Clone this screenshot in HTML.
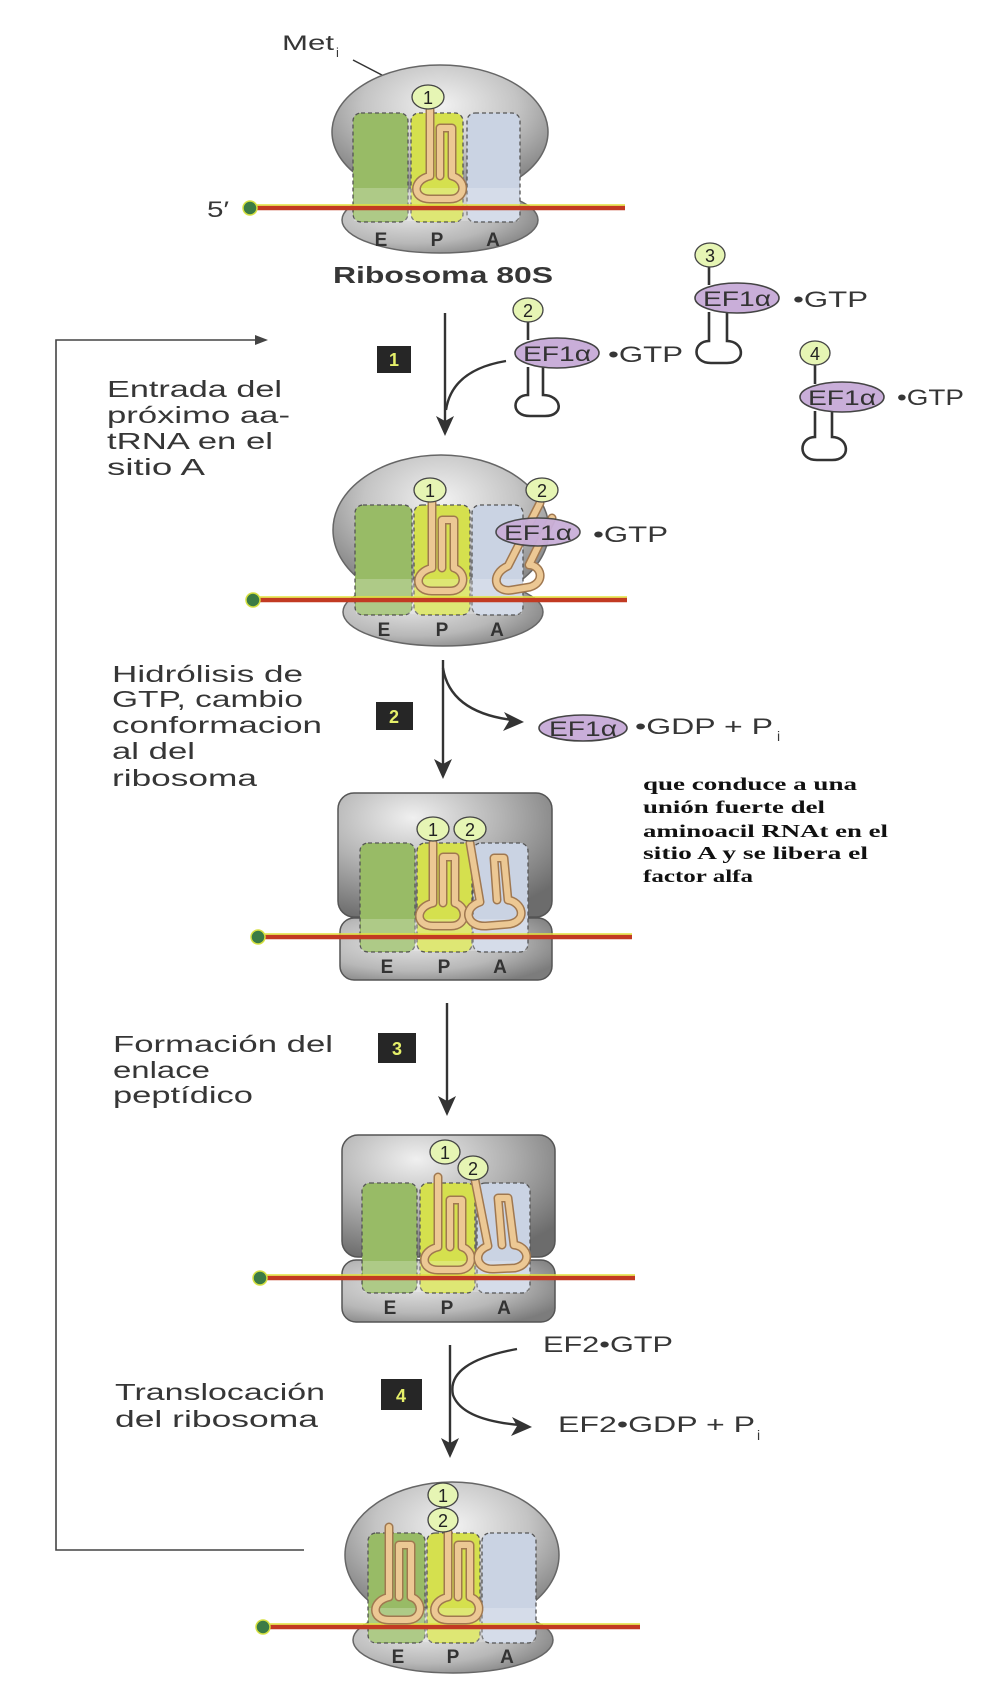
<!DOCTYPE html>
<html><head><meta charset="utf-8"><style>
html,body{margin:0;padding:0;background:#fff;}
svg{display:block;}
text{font-family:"Liberation Sans",Arial,sans-serif;fill:#363636;}
.serif{font-family:"Liberation Serif","Times New Roman",serif;font-weight:bold;fill:#111;font-size:18px;}
.lbl{font-size:23px;}
.epa{font-size:19px;font-weight:bold;fill:#333;text-anchor:middle;}
.num{font-size:18px;text-anchor:middle;fill:#222;}
.ef{font-size:21px;fill:#333;}
.gtp{font-size:22px;}
.box{fill:#262626;}
.boxn{font-size:18px;font-weight:bold;fill:#e6f06a;text-anchor:middle;}
.site{stroke:#555;stroke-width:1.3;stroke-dasharray:4 3;}
.lo{fill:#fff;opacity:0.22;}
.trO{fill:none;stroke:#a07850;stroke-width:9;stroke-linejoin:round;stroke-linecap:round;}
.trI{fill:none;stroke:#ecc894;stroke-width:6;stroke-linejoin:round;stroke-linecap:round;}
.circ{fill:#e6f5b4;stroke:#444;stroke-width:1.3;}
.efe{fill:#c9aed9;stroke:#444;stroke-width:1.6;}
.ln{stroke:#333;fill:none;stroke-width:2.4;}
.stem{stroke:#333;fill:none;stroke-width:2.6;}
.mr{stroke:#c23a22;stroke-width:4.5;}
.my{stroke:#e2e23c;stroke-width:1.6;}
.dot{fill:#3b7b45;stroke:#d6e040;stroke-width:1.5;}
</style></head><body>
<svg width="1000" height="1707" viewBox="0 0 1000 1707" xmlns="http://www.w3.org/2000/svg">
<defs>
<radialGradient id="gE" cx="0.5" cy="0.3" r="0.65">
 <stop offset="0" stop-color="#f2f2f2"/><stop offset="0.55" stop-color="#c4c4c4"/><stop offset="1" stop-color="#858585"/>
</radialGradient>
<radialGradient id="gB" cx="0.35" cy="0.4" r="0.75">
 <stop offset="0" stop-color="#e6e6e6"/><stop offset="0.6" stop-color="#b8b8b8"/><stop offset="1" stop-color="#7c7c7c"/>
</radialGradient>
<radialGradient id="gR" cx="0.35" cy="0.2" r="0.85">
 <stop offset="0" stop-color="#f0f0f0"/><stop offset="0.5" stop-color="#b2b2b2"/><stop offset="1" stop-color="#6c6c6c"/>
</radialGradient>
</defs>

<!-- feedback loop line -->
<path d="M262,340 H56 V1550 H304" stroke="#444" stroke-width="1.6" fill="none"/>
<polygon points="268,340 255,335 255,345" fill="#444"/>

<!-- ============ Ribosome 1 ============ -->
<text x="282" y="50" font-size="21" textLength="52" lengthAdjust="spacingAndGlyphs">Met</text>
<text x="336" y="57" font-size="13">i</text>
<line x1="353" y1="60" x2="405" y2="87" stroke="#333" stroke-width="1.5"/>
<ellipse cx="440" cy="132" rx="108" ry="67" fill="url(#gE)" stroke="#666" stroke-width="1.5"/>
<ellipse cx="440" cy="220" rx="98" ry="33" fill="url(#gB)" stroke="#666" stroke-width="1.5"/>
<rect class="site" x="353" y="113" width="55" height="109" rx="8" fill="#98bb66"/>
<rect class="site" x="411" y="113" width="52" height="109" rx="8" fill="#d5e04e"/>
<rect class="site" x="467" y="113" width="53" height="109" rx="8" fill="#cad3e3"/>
<rect class="lo" x="354" y="188" width="165" height="33"/>
<line class="mr" x1="250" y1="208" x2="625" y2="208"/>
<line class="my" x1="256" y1="205" x2="625" y2="205"/>
<circle class="dot" cx="250" cy="208" r="7"/>
<text x="207" y="217" font-size="22" textLength="22" lengthAdjust="spacingAndGlyphs">5′</text>
<path class="trO" d="M430,110 V176 C412,180 412,199 430,199 H450 C466,199 467,180 452,176 V128 H440 V176"/>
<path class="trI" d="M430,110 V176 C412,180 412,199 430,199 H450 C466,199 467,180 452,176 V128 H440 V176"/>
<ellipse class="circ" cx="428" cy="97" rx="16" ry="12"/>
<text class="num" x="428" y="104">1</text>
<text class="epa" x="381" y="246">E</text>
<text class="epa" x="437" y="246">P</text>
<text class="epa" x="493" y="246">A</text>
<text x="333" y="283" font-size="23" font-weight="bold" textLength="220" lengthAdjust="spacingAndGlyphs">Ribosoma 80S</text>

<!-- ============ free EF1a groups ============ -->
<line class="stem" x1="528" y1="322" x2="528" y2="340"/>
<path class="stem" d="M528,367 V395 C512,395 510,416 530,416 H545 C565,416 562,395 543,395 V367"/>
<ellipse class="circ" cx="528" cy="310" rx="15" ry="12"/>
<text class="num" x="528" y="317">2</text>
<ellipse class="efe" cx="557" cy="353" rx="42" ry="15"/>
<text class="ef" x="523" y="361" textLength="68" lengthAdjust="spacingAndGlyphs">EF1α</text>
<text class="gtp" x="608" y="362" textLength="75" lengthAdjust="spacingAndGlyphs">•GTP</text>

<line class="stem" x1="709" y1="267" x2="709" y2="285"/>
<path class="stem" d="M709,312 V341 C693,341 691,363 711,363 H727 C747,363 744,341 727,341 V312"/>
<ellipse class="circ" cx="710" cy="255" rx="15" ry="12"/>
<text class="num" x="710" y="262">3</text>
<ellipse class="efe" cx="737" cy="298" rx="42" ry="15"/>
<text class="ef" x="703" y="306" textLength="68" lengthAdjust="spacingAndGlyphs">EF1α</text>
<text class="gtp" x="793" y="307" textLength="75" lengthAdjust="spacingAndGlyphs">•GTP</text>

<line class="stem" x1="815" y1="365" x2="815" y2="384"/>
<path class="stem" d="M815,411 V437 C799,437 797,460 817,460 H832 C852,460 849,437 832,437 V411"/>
<ellipse class="circ" cx="815" cy="353" rx="15" ry="12"/>
<text class="num" x="815" y="360">4</text>
<ellipse class="efe" cx="842" cy="397" rx="42" ry="15"/>
<text class="ef" x="808" y="405" textLength="68" lengthAdjust="spacingAndGlyphs">EF1α</text>
<text class="gtp" x="897" y="405" textLength="67" lengthAdjust="spacingAndGlyphs">•GTP</text>

<!-- step 1 -->
<line class="ln" x1="445" y1="313" x2="445" y2="425"/>
<polygon points="445,436 436,416 445,421 454,416" fill="#333"/>
<path class="ln" d="M506,361 Q452,370 446,410"/>
<rect class="box" x="377" y="346" width="34" height="27"/>
<text class="boxn" x="394" y="366">1</text>
<text class="lbl" x="107" y="397" textLength="175" lengthAdjust="spacingAndGlyphs">Entrada del</text>
<text class="lbl" x="107" y="423" textLength="183" lengthAdjust="spacingAndGlyphs">próximo aa-</text>
<text class="lbl" x="107" y="449" textLength="166" lengthAdjust="spacingAndGlyphs">tRNA en el</text>
<text class="lbl" x="107" y="475" textLength="98" lengthAdjust="spacingAndGlyphs">sitio A</text>

<!-- ============ Ribosome 2 ============ -->
<ellipse cx="441" cy="530" rx="108" ry="75" fill="url(#gE)" stroke="#666" stroke-width="1.5"/>
<ellipse cx="443" cy="612" rx="100" ry="34" fill="url(#gB)" stroke="#666" stroke-width="1.5"/>
<rect class="site" x="355" y="505" width="57" height="110" rx="8" fill="#98bb66"/>
<rect class="site" x="414" y="505" width="56" height="110" rx="8" fill="#d5e04e"/>
<rect class="site" x="472" y="505" width="51" height="110" rx="8" fill="#cad3e3"/>
<rect class="lo" x="356" y="579" width="166" height="35"/>
<line class="mr" x1="253" y1="600" x2="627" y2="600"/>
<line class="my" x1="259" y1="597" x2="627" y2="597"/>
<circle class="dot" cx="253" cy="600" r="7"/>
<path class="trO" d="M432,503 V568 C414,572 414,591 432,591 H450 C466,591 467,572 454,568 V520 H442 V568"/>
<path class="trI" d="M432,503 V568 C414,572 414,591 432,591 H450 C466,591 467,572 454,568 V520 H442 V568"/>
<path class="trO" d="M540,503 L508,566 C490,574 494,593 512,590 L530,587 C546,582 541,565 529,565 L552,518"/>
<path class="trI" d="M540,503 L508,566 C490,574 494,593 512,590 L530,587 C546,582 541,565 529,565 L552,518"/>
<ellipse class="circ" cx="430" cy="490" rx="16" ry="12"/>
<text class="num" x="430" y="497">1</text>
<ellipse class="circ" cx="542" cy="490" rx="16" ry="12"/>
<text class="num" x="542" y="497">2</text>
<ellipse class="efe" cx="538" cy="532" rx="42" ry="14" opacity="0.95"/>
<text class="ef" x="504" y="540" textLength="68" lengthAdjust="spacingAndGlyphs">EF1α</text>
<text class="gtp" x="593" y="542" textLength="75" lengthAdjust="spacingAndGlyphs">•GTP</text>
<text class="epa" x="384" y="636">E</text>
<text class="epa" x="442" y="636">P</text>
<text class="epa" x="497" y="636">A</text>

<!-- step 2 -->
<line class="ln" x1="443" y1="660" x2="443" y2="768"/>
<polygon points="443,779 434,759 443,764 452,759" fill="#333"/>
<path class="ln" d="M443,668 Q450,712 512,720"/>
<polygon points="524,722 504,712 509,721 503,731" fill="#333"/>
<rect class="box" x="376" y="702" width="37" height="28"/>
<text class="boxn" x="394" y="723">2</text>
<ellipse class="efe" cx="583" cy="728" rx="44" ry="13"/>
<text class="ef" x="549" y="736" textLength="68" lengthAdjust="spacingAndGlyphs">EF1α</text>
<text class="gtp" x="635" y="734" textLength="138" lengthAdjust="spacingAndGlyphs">•GDP + P</text>
<text x="777" y="741" font-size="14">i</text>
<text class="lbl" x="112" y="682" textLength="191" lengthAdjust="spacingAndGlyphs">Hidrólisis de</text>
<text class="lbl" x="112" y="707" textLength="191" lengthAdjust="spacingAndGlyphs">GTP, cambio</text>
<text class="lbl" x="112" y="733" textLength="210" lengthAdjust="spacingAndGlyphs">conformacion</text>
<text class="lbl" x="112" y="759" textLength="83" lengthAdjust="spacingAndGlyphs">al del</text>
<text class="lbl" x="112" y="786" textLength="145" lengthAdjust="spacingAndGlyphs">ribosoma</text>
<text class="serif" x="643" y="790" textLength="214" lengthAdjust="spacingAndGlyphs">que conduce a una</text>
<text class="serif" x="643" y="813" textLength="182" lengthAdjust="spacingAndGlyphs">unión fuerte del</text>
<text class="serif" x="643" y="837" textLength="245" lengthAdjust="spacingAndGlyphs">aminoacil RNAt en el</text>
<text class="serif" x="643" y="859" textLength="225" lengthAdjust="spacingAndGlyphs">sitio A y se libera el</text>
<text class="serif" x="643" y="882" textLength="110" lengthAdjust="spacingAndGlyphs">factor alfa</text>

<!-- ============ Ribosome 3 ============ -->
<rect x="338" y="793" width="214" height="124" rx="16" fill="url(#gR)" stroke="#555" stroke-width="1.5"/>
<rect x="340" y="918" width="212" height="62" rx="14" fill="url(#gB)" stroke="#555" stroke-width="1.5"/>
<rect class="site" x="360" y="843" width="55" height="109" rx="8" fill="#98bb66"/>
<rect class="site" x="417" y="843" width="55" height="109" rx="8" fill="#d5e04e"/>
<rect class="site" x="473" y="843" width="55" height="109" rx="8" fill="#cad3e3"/>
<rect class="lo" x="361" y="919" width="166" height="32"/>
<line class="mr" x1="258" y1="937" x2="632" y2="937"/>
<line class="my" x1="264" y1="934" x2="632" y2="934"/>
<circle class="dot" cx="258" cy="937" r="7"/>
<path class="trO" d="M433,843 V903 C415,907 415,926 433,926 H451 C467,926 468,907 455,903 V857 H443 V903"/>
<path class="trI" d="M433,843 V903 C415,907 415,926 433,926 H451 C467,926 468,907 455,903 V857 H443 V903"/>
<path class="trO" d="M470,843 L480,902 C462,908 466,927 486,926 L510,924 C528,920 522,902 508,900 L504,858 L494,858 L497,900"/>
<path class="trI" d="M470,843 L480,902 C462,908 466,927 486,926 L510,924 C528,920 522,902 508,900 L504,858 L494,858 L497,900"/>
<ellipse class="circ" cx="433" cy="829" rx="16" ry="12"/>
<text class="num" x="433" y="836">1</text>
<ellipse class="circ" cx="470" cy="829" rx="16" ry="12"/>
<text class="num" x="470" y="836">2</text>
<text class="epa" x="387" y="973">E</text>
<text class="epa" x="444" y="973">P</text>
<text class="epa" x="500" y="973">A</text>

<!-- step 3 -->
<line class="ln" x1="447" y1="1003" x2="447" y2="1105"/>
<polygon points="447,1116 438,1096 447,1101 456,1096" fill="#333"/>
<rect class="box" x="378" y="1033" width="38" height="30"/>
<text class="boxn" x="397" y="1055">3</text>
<text class="lbl" x="113" y="1052" textLength="220" lengthAdjust="spacingAndGlyphs">Formación del</text>
<text class="lbl" x="113" y="1078" textLength="97" lengthAdjust="spacingAndGlyphs">enlace</text>
<text class="lbl" x="113" y="1103" textLength="140" lengthAdjust="spacingAndGlyphs">peptídico</text>

<!-- ============ Ribosome 4 ============ -->
<rect x="342" y="1135" width="213" height="122" rx="16" fill="url(#gR)" stroke="#555" stroke-width="1.5"/>
<rect x="342" y="1260" width="213" height="62" rx="14" fill="url(#gB)" stroke="#555" stroke-width="1.5"/>
<rect class="site" x="362" y="1183" width="55" height="110" rx="8" fill="#98bb66"/>
<rect class="site" x="420" y="1183" width="55" height="110" rx="8" fill="#d5e04e"/>
<rect class="site" x="477" y="1183" width="53" height="110" rx="8" fill="#cad3e3"/>
<rect class="lo" x="363" y="1261" width="166" height="31"/>
<line class="mr" x1="260" y1="1278" x2="635" y2="1278"/>
<line class="my" x1="266" y1="1275" x2="635" y2="1275"/>
<circle class="dot" cx="260" cy="1278" r="7"/>
<path class="trO" d="M438,1177 V1247 C420,1251 420,1270 438,1270 H458 C474,1270 475,1251 462,1247 V1200 H450 V1247"/>
<path class="trI" d="M438,1177 V1247 C420,1251 420,1270 438,1270 H458 C474,1270 475,1251 462,1247 V1200 H450 V1247"/>
<path class="trO" d="M475,1180 L488,1246 C472,1252 476,1270 494,1269 L515,1268 C533,1264 528,1246 514,1245 L508,1198 L498,1198 L502,1245"/>
<path class="trI" d="M475,1180 L488,1246 C472,1252 476,1270 494,1269 L515,1268 C533,1264 528,1246 514,1245 L508,1198 L498,1198 L502,1245"/>
<ellipse class="circ" cx="445" cy="1152" rx="15" ry="12"/>
<text class="num" x="445" y="1159">1</text>
<ellipse class="circ" cx="473" cy="1168" rx="15" ry="12"/>
<text class="num" x="473" y="1175">2</text>
<text class="epa" x="390" y="1314">E</text>
<text class="epa" x="447" y="1314">P</text>
<text class="epa" x="504" y="1314">A</text>

<!-- step 4 -->
<text class="gtp" x="543" y="1352" font-size="21" textLength="130" lengthAdjust="spacingAndGlyphs">EF2•GTP</text>
<line class="ln" x1="450" y1="1345" x2="450" y2="1447"/>
<polygon points="450,1458 441,1438 450,1443 459,1438" fill="#333"/>
<path class="ln" d="M517,1349 Q446,1362 453,1395 Q462,1420 520,1425"/>
<polygon points="532,1427 512,1417 517,1426 511,1436" fill="#333"/>
<rect class="box" x="381" y="1379" width="41" height="31"/>
<text class="boxn" x="401" y="1402">4</text>
<text class="gtp" x="558" y="1432" font-size="21" textLength="197" lengthAdjust="spacingAndGlyphs">EF2•GDP + P</text>
<text x="757" y="1440" font-size="14">i</text>
<text class="lbl" x="115" y="1400" textLength="210" lengthAdjust="spacingAndGlyphs">Translocación</text>
<text class="lbl" x="115" y="1427" textLength="203" lengthAdjust="spacingAndGlyphs">del ribosoma</text>

<!-- ============ Ribosome 5 ============ -->
<ellipse cx="452" cy="1555" rx="107" ry="73" fill="url(#gE)" stroke="#666" stroke-width="1.5"/>
<ellipse cx="453" cy="1640" rx="100" ry="33" fill="url(#gB)" stroke="#666" stroke-width="1.5"/>
<rect class="site" x="368" y="1533" width="57" height="110" rx="8" fill="#98bb66"/>
<rect class="site" x="427" y="1533" width="53" height="110" rx="8" fill="#d5e04e"/>
<rect class="site" x="482" y="1533" width="54" height="110" rx="8" fill="#cad3e3"/>
<rect class="lo" x="369" y="1608" width="166" height="34"/>
<line class="mr" x1="263" y1="1627" x2="640" y2="1627"/>
<line class="my" x1="269" y1="1624" x2="640" y2="1624"/>
<circle class="dot" cx="263" cy="1627" r="7"/>
<path class="trO" d="M389,1527 V1597 C371,1601 371,1620 389,1620 H407 C423,1620 424,1601 411,1597 V1545 H399 V1597"/>
<path class="trI" d="M389,1527 V1597 C371,1601 371,1620 389,1620 H407 C423,1620 424,1601 411,1597 V1545 H399 V1597"/>
<path class="trO" d="M448,1532 V1597 C430,1601 430,1620 448,1620 H466 C482,1620 483,1601 470,1597 V1545 H458 V1597"/>
<path class="trI" d="M448,1532 V1597 C430,1601 430,1620 448,1620 H466 C482,1620 483,1601 470,1597 V1545 H458 V1597"/>
<ellipse class="circ" cx="443" cy="1495" rx="15" ry="12"/>
<text class="num" x="443" y="1502">1</text>
<ellipse class="circ" cx="443" cy="1520" rx="15" ry="12"/>
<text class="num" x="443" y="1527">2</text>
<text class="epa" x="398" y="1663">E</text>
<text class="epa" x="453" y="1663">P</text>
<text class="epa" x="507" y="1663">A</text>
</svg>
</body></html>
